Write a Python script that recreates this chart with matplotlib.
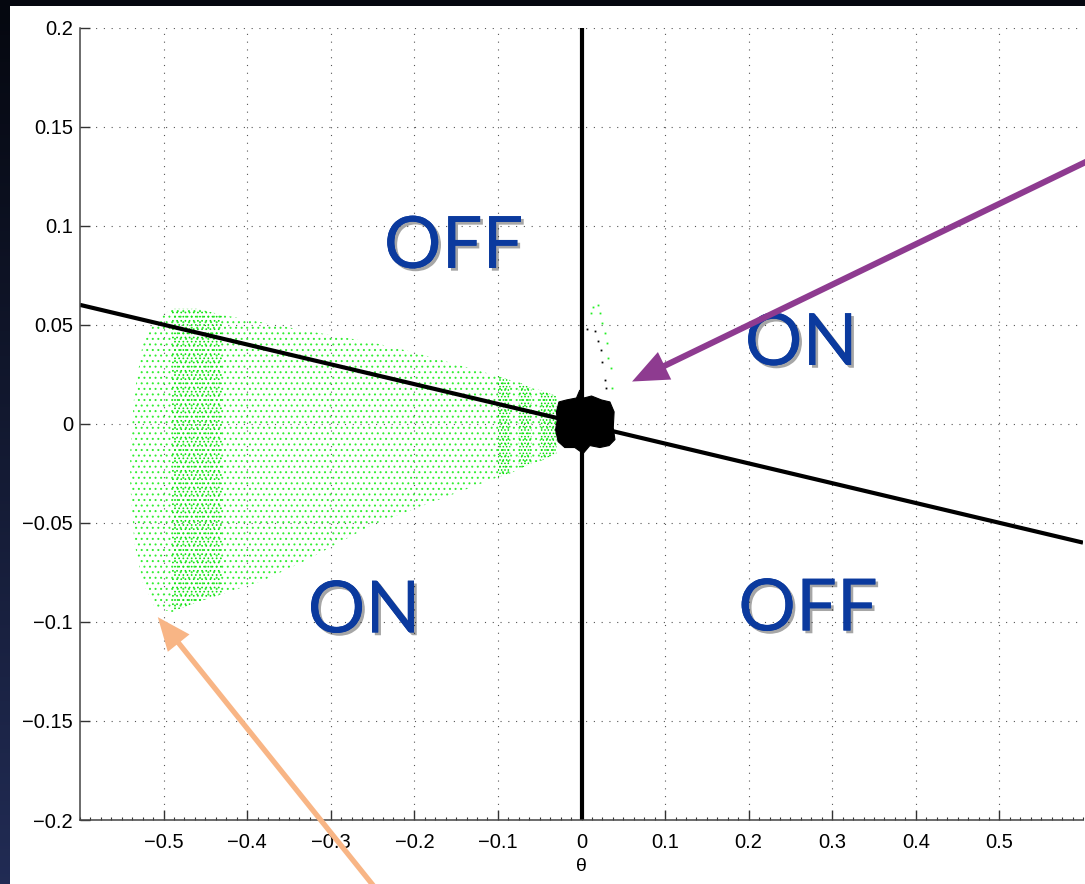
import numpy as np
import matplotlib
matplotlib.use('Agg')
from matplotlib import pyplot as plt
from matplotlib.patches import Rectangle
from matplotlib.ticker import AutoMinorLocator
import matplotlib.patheffects as pe

# envelope of the green point cloud
cloud_x = np.array([-0.540, -0.535, -0.525, -0.51, -0.49, -0.46, -0.43, -0.38, -0.33,
                    -0.29, -0.25, -0.20, -0.15, -0.10, -0.085, -0.075, -0.06, -0.05,
                    -0.03])
cloud_hi = np.array([-0.015, 0.015, 0.040, 0.052, 0.058, 0.058, 0.055, 0.051, 0.047,
                     0.044, 0.041, 0.036, 0.030, 0.024, 0.022, 0.021, 0.018, 0.017,
                     0.014])
cloud_lo = np.array([-0.030, -0.060, -0.080, -0.093, -0.095, -0.090, -0.086, -0.079, -0.069,
                     -0.060, -0.051, -0.043, -0.035, -0.027, -0.025, -0.023, -0.020, -0.019,
                     -0.015])
# denser vertical bands of the cloud
dense_bands = [(-0.49, -0.43), (-0.10, -0.085), (-0.075, -0.06), (-0.05, -0.03)]

# dense black cluster around the origin
blob_x = [-0.030, -0.027, -0.018, -0.006, -0.002, 0.003, 0.012, 0.024, 0.034, 0.039,
          0.038, 0.040, 0.033, 0.022, 0.010, 0.002, -0.008, -0.020, -0.028, -0.031, -0.029]
blob_y = [0.006, 0.011, 0.012, 0.013, 0.017, 0.013, 0.014, 0.012, 0.011, 0.006,
          -0.002, -0.008, -0.011, -0.012, -0.011, -0.015, -0.012, -0.012, -0.009, -0.003, 0.002]

# stray points above the cluster
stray_black_x = [0.006, 0.016, 0.020, 0.023, 0.025, 0.028, 0.029]
stray_black_y = [0.048, 0.047, 0.042, 0.037, 0.031, 0.022, 0.018]
stray_green_x = [0.014, 0.020, 0.022, 0.011, 0.025, 0.028, 0.030, 0.032, 0.035, 0.036]
stray_green_y = [0.059, 0.060, 0.056, 0.056, 0.051, 0.046, 0.041, 0.033, 0.028, 0.018]

# switching lines
vline_x = [0, 0]
vline_y = [-0.2, 0.2]
sline_x = [-0.6, 0.6]
sline_y = [0.06, -0.06]

xticks = [-0.5, -0.4, -0.3, -0.2, -0.1, 0, 0.1, 0.2, 0.3, 0.4, 0.5]
yticks = [-0.2, -0.15, -0.1, -0.05, 0, 0.05, 0.1, 0.15, 0.2]
xtick_labels = ['\u22120.5', '\u22120.4', '\u22120.3', '\u22120.2', '\u22120.1', '0',
                '0.1', '0.2', '0.3', '0.4', '0.5']
ytick_labels = ['\u22120.2', '\u22120.15', '\u22120.1', '\u22120.05', '0',
                '0.05', '0.1', '0.15', '0.2']

region_labels = ['OFF', 'ON', 'ON', 'OFF']
region_x = [-0.153, 0.263, -0.260, 0.271]
region_y = [0.089, 0.040, -0.095, -0.094]

plt.rcParams['font.family'] = ['Liberation Sans', 'DejaVu Sans']
plt.rcParams['hatch.linewidth'] = 0.7

W, H = 1085, 884
fig = plt.figure(figsize=(W / 100, H / 100), dpi=100)

# slide background: dark navy gradient, white panel
grad = np.linspace(0, 1, 256).reshape(-1, 1)
top_c = np.array([0.02, 0.03, 0.06])
bot_c = np.array([0.13, 0.17, 0.33])
grad_img = top_c + grad[..., None] * (bot_c - top_c)
grad_img = grad_img.reshape(256, 1, 3)

bg = fig.add_axes([0, 0, 1, 1], zorder=-10)
bg.imshow(grad_img, aspect='auto', extent=[0, 1, 0, 1])
bg.add_patch(Rectangle((10 / W, 0), 1, 1 - 6 / H, transform=bg.transAxes,
                       facecolor='white', edgecolor='none'))
bg.set_xlim(0, 1)
bg.set_ylim(0, 1)
bg.axis('off')

ax = fig.add_axes([80 / W, 1 - 820 / H, 1003 / W, 792.5 / H], zorder=1)

# green cloud
ax.fill_between(cloud_x, cloud_lo, cloud_hi, facecolor='none', edgecolor='#33ee33',
                linewidth=0, hatch='...')
for i, (a, b) in enumerate(dense_bands):
    m = (cloud_x >= a) & (cloud_x <= b)
    ax.fill_between(cloud_x, cloud_lo, cloud_hi, where=m, facecolor='none',
                    edgecolor='#11e011' if i == 0 else '#00dd00', linewidth=0,
                    hatch='....' if i == 0 else '.....')

ax.plot(stray_green_x, stray_green_y, 's', color='#22ee22', ms=1.3, mew=0)
ax.plot(stray_black_x, stray_black_y, 's', color='black', ms=1.3, mew=0)

ax.plot(sline_x, sline_y, color='black', lw=3, solid_capstyle='butt')
ax.plot(vline_x, vline_y, color='black', lw=3, solid_capstyle='butt')
ax.fill(blob_x, blob_y, color='black', lw=0.8, ec='black')

ax.set_xlim(-0.6, 0.6)
ax.set_ylim(-0.2, 0.2)
ax.set_xticks(xticks)
ax.set_xticklabels(xtick_labels)
ax.set_yticks(yticks)
ax.set_yticklabels(ytick_labels)
ax.xaxis.set_minor_locator(AutoMinorLocator(8))
ax.tick_params(axis='both', which='major', direction='in', length=7, width=1,
               color='#333333', labelsize=14.5)
ax.tick_params(axis='x', which='major', pad=9)
ax.tick_params(axis='y', which='major', pad=5)
ax.tick_params(axis='x', which='minor', direction='in', length=2.5, width=0.8,
               color='#333333')
ax.grid(True, which='major', color='#555555', linestyle=(0, (1, 6)), linewidth=0.8)
ax.set_axisbelow(True)
for s in ['top', 'right']:
    ax.spines[s].set_visible(False)
for s in ['left', 'bottom']:
    ax.spines[s].set_color('#444444')
    ax.spines[s].set_linewidth(1.1)

ax.set_xlabel('\u03b8', fontsize=14, labelpad=5)
ax.set_ylabel('\u03c9', fontsize=9)
ax.yaxis.set_label_coords(-0.067, 0.516)

for t, x, y in zip(region_labels, region_x, region_y):
    ax.text(x, y, t, color='#0b3a9e', fontsize=52, family='Lato',
            ha='center', va='center',
            path_effects=[pe.withSimplePatchShadow(offset=(2, -2), shadow_rgbFace='black',
                                                   alpha=0.35), pe.Normal()])

# arrows pointing at the interesting spots
ax.annotate('', xy=(0.0575, 0.0207), xytext=(0.61, 0.1335), annotation_clip=False,
            arrowprops=dict(arrowstyle='simple,head_length=1.3,head_width=1.1,tail_width=0.22',
                            mutation_scale=20, color='#8e3b90', lw=0))
ax.annotate('', xy=(-0.509, -0.0965), xytext=(-0.2455, -0.235), annotation_clip=False,
            arrowprops=dict(arrowstyle='simple,head_length=1.2,head_width=1.0,tail_width=0.19',
                            mutation_scale=20, color='#f8b585', lw=0))

# left dark strip over the cut-off y label
strip = fig.add_axes([0, 0, 10 / W, 1], zorder=10)
strip.imshow(grad_img, aspect='auto', extent=[0, 1, 0, 1])
strip.axis('off')

fig.savefig('out.png', dpi=100)
